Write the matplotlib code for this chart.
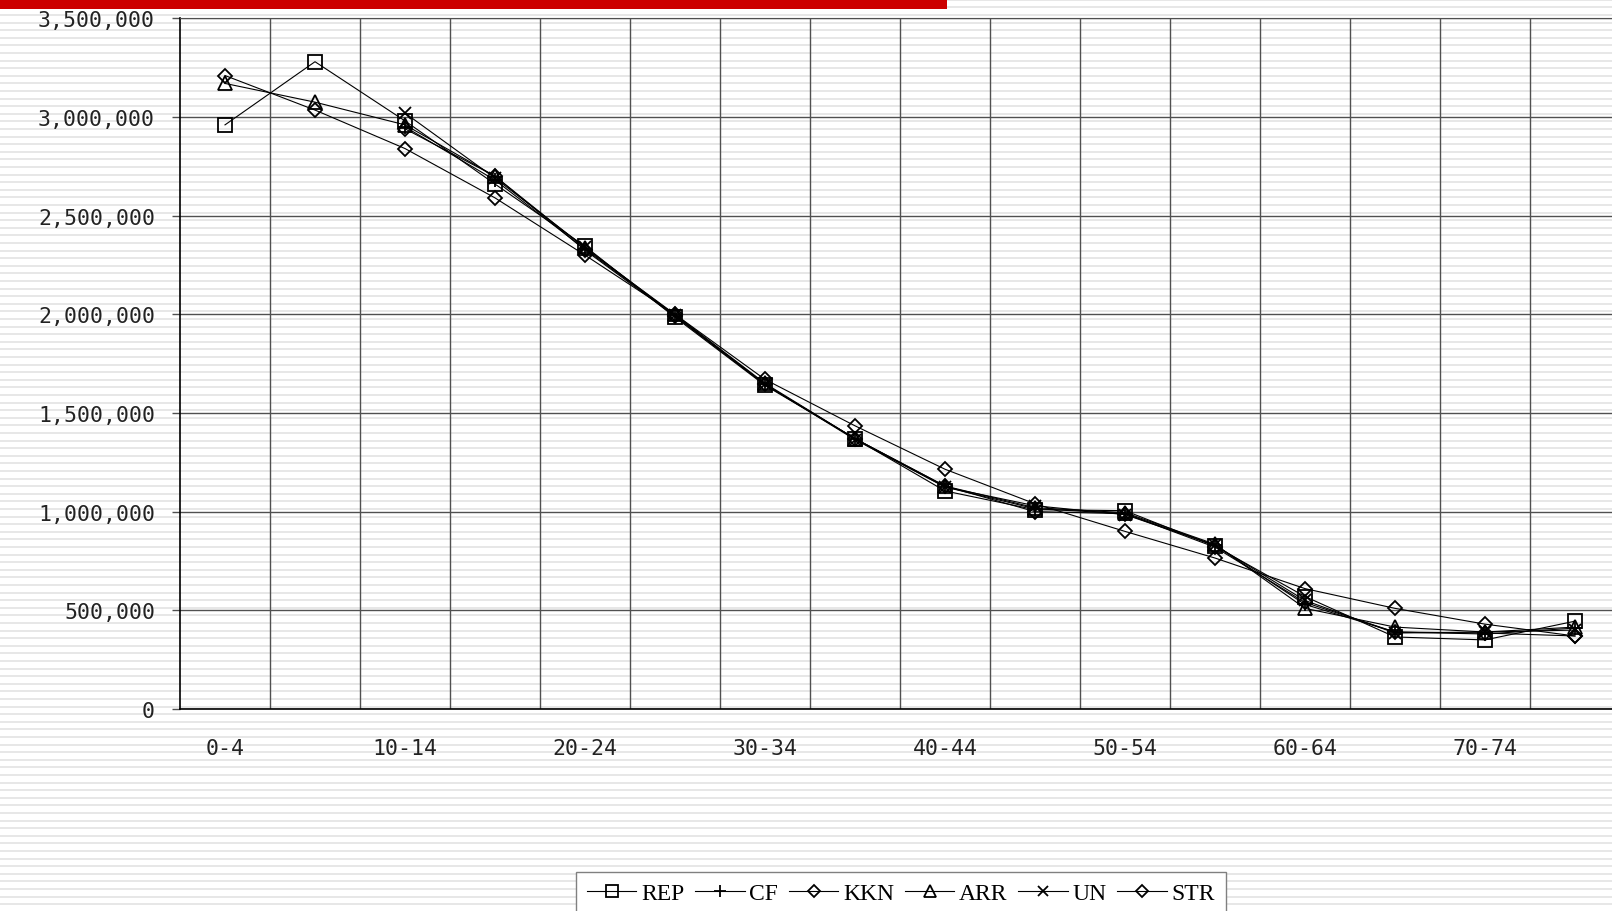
import numpy as np
import matplotlib
matplotlib.use('Agg')
import matplotlib.pyplot as plt
from matplotlib.patches import Rectangle

# ---- data ----
age_groups = ['0-4', '5-9', '10-14', '15-19', '20-24', '25-29', '30-34', '35-39',
              '40-44', '45-49', '50-54', '55-59', '60-64', '65-69', '70-74', '75+']
nan = np.nan
rep = [2960000, 3280000, 2980000, 2660000, 2345000, 1985000, 1640000, 1370000,
       1105000, 1010000, 1005000, 825000, 570000, 365000, 350000, 445000]
cf = [nan, nan, 2950000, 2680000, 2330000, 1995000, 1645000, 1370000,
      1125000, 1015000, 990000, 830000, 530000, 390000, 380000, 410000]
kkn = [3210000, 3035000, 2840000, 2590000, 2300000, 2000000, 1670000, 1435000,
       1215000, 1040000, 900000, 765000, 610000, 510000, 430000, 370000]
arr = [3170000, 3075000, 2960000, 2700000, 2335000, 2000000, 1650000, 1370000,
       1130000, 1020000, 995000, 835000, 510000, 415000, 390000, 415000]
un = [nan, nan, 3020000, 2690000, 2340000, 1995000, 1645000, 1365000,
      1125000, 1030000, 985000, 830000, 550000, 385000, 390000, 400000]
strv = [nan, nan, 2940000, 2700000, 2325000, 1990000, 1645000, 1370000,
        1130000, 1000000, 990000, 820000, 540000, 390000, 385000, 370000]
series_names = ['REP', 'CF', 'KKN', 'ARR', 'UN', 'STR']
series_values = [rep, cf, kkn, arr, un, strv]
series_markers = ['s', '+', 'D', '^', 'x', 'D']
series_msize = [10, 10, 6.8, 10, 9, 6.8]
yticks = [0, 500000, 1000000, 1500000, 2000000, 2500000, 3000000, 3500000]

W, H = 1612, 912
fig = plt.figure(figsize=(W / 100, H / 100), dpi=100)
fig.patch.set_facecolor('white')

# background stripes + red bar
bg = fig.add_axes([0, 0, 1, 1], zorder=-10)
bg.set_xlim(0, W)
bg.set_ylim(H, 0)
bg.axis('off')
stripe_y = np.arange(0.8, H, 7.6)
bg.hlines(stripe_y, 0, W, colors='#e0e0e0', linewidth=1.1, zorder=1)
bg.add_patch(Rectangle((0, 0), 947, 10, color='#cc0000', lw=0, zorder=5))

# main axes
ax = fig.add_axes([180 / W, 1 - 710 / H, 1440 / W, (710 - 19.3) / H])
ax.set_facecolor('none')
x = np.arange(len(age_groups))
for name, vals, mk, ms in zip(series_names, series_values, series_markers, series_msize):
    ax.plot(x, vals, color='black', lw=0.8, marker=mk, markersize=ms,
            markerfacecolor='none', markeredgecolor='black', markeredgewidth=1.3,
            label=name, clip_on=False)

ax.set_xlim(-0.5, len(age_groups) - 0.5)
ax.set_ylim(0, 3500000)
ax.set_yticks(yticks)
ax.set_yticklabels([f'{v:,}' for v in yticks], fontfamily='DejaVu Sans Mono',
                   fontsize=15.5, color='#222222')
ax.set_xticks(x[::2])
ax.set_xticklabels(age_groups[::2], fontfamily='DejaVu Sans Mono', fontsize=15.5,
                   color='#222222')
ax.set_xticks(np.arange(0.5, len(age_groups) - 0.5, 1), minor=True)
ax.grid(False)
ax.yaxis.grid(True, color='#505050', lw=1)
ax.xaxis.grid(True, which='minor', color='#505050', lw=1)
ax.set_axisbelow(True)
ax.tick_params(axis='x', which='both', length=0, pad=21)
ax.tick_params(axis='y', length=6, width=1, pad=12, color='#505050')
for s in ['left', 'bottom']:
    ax.spines[s].set_color('black')
    ax.spines[s].set_linewidth(1.2)
ax.spines['top'].set_color('#505050')
ax.spines['right'].set_visible(False)

leg = fig.legend(loc='upper center', bbox_to_anchor=(901 / W, 1 - 873 / H), ncol=6,
                 prop={'family': 'Liberation Serif', 'size': 17},
                 handlelength=2.1, handletextpad=0.2, columnspacing=0.45,
                 borderpad=0.45, markerscale=0.85, fancybox=False,
                 edgecolor='#808080', framealpha=1, borderaxespad=0)
leg.get_frame().set_linewidth(1)

fig.savefig('out.png', dpi=100)
